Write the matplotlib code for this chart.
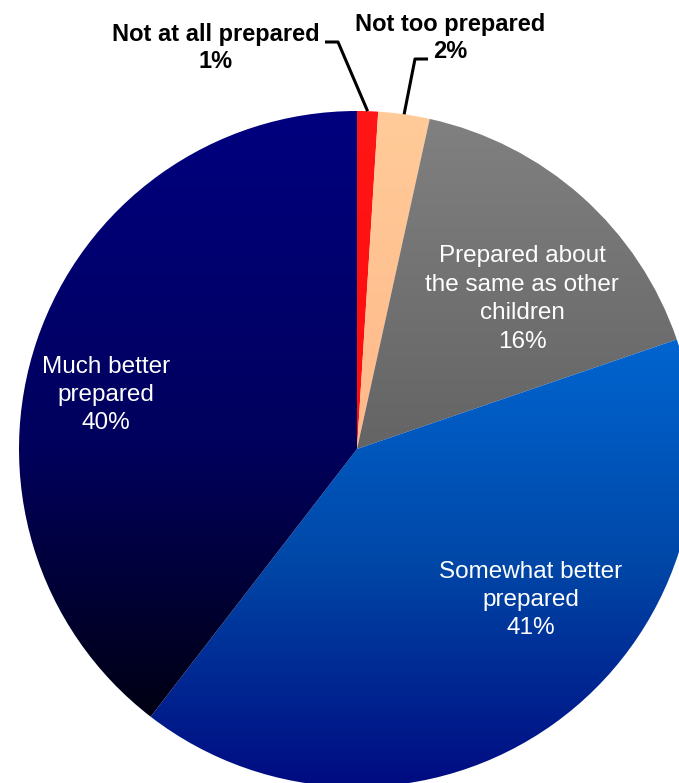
import matplotlib.pyplot as plt
import numpy as np

# slice data, clockwise from 12 o'clock
labels = ['Not at all prepared', 'Not too prepared',
          'Prepared about\nthe same as other\nchildren',
          'Somewhat better\nprepared', 'Much better\nprepared']
pct_labels = ['1%', '2%', '16%', '41%', '40%']
shares = [1.0, 2.45, 16.3, 40.7, 39.55]

W, H = 679, 783
cx, cy, r = 357, 449, 338          # pie centre / radius in pixels (y from top)

# vertical gradient stops per slice: (y from top, colour)
gradients = [
    [(0, '#ff1a1a'), (783, '#ff0000')],
    [(100, '#ffcc99'), (450, '#ffb88a')],
    [(100, '#828282'), (450, '#646464')],
    [(330, '#0066d2'), (560, '#0048a8'), (790, '#000a80')],
    [(100, '#000080'), (450, '#00005c'), (720, '#000012')],
]

plt.rcParams['font.family'] = ['Liberation Sans', 'DejaVu Sans']

fig = plt.figure(figsize=(W / 100, H / 100), dpi=100)
ax = fig.add_axes([0, 0, 1, 1])

wedges, _ = ax.pie(shares, startangle=90, counterclock=False,
                   center=(cx, H - cy), radius=r,
                   wedgeprops=dict(linewidth=0))
ax.set_aspect('equal')
ax.axis('off')


def hex_rgb(h):
    h = h.lstrip('#')
    return [int(h[i:i + 2], 16) / 255 for i in (0, 2, 4)]


ys = np.arange(H) + 0.5  # y from top, row 0 = top of figure
for w, stops in zip(wedges, gradients):
    sy = [s[0] for s in stops]
    cols = np.array([hex_rgb(s[1]) for s in stops])
    img = np.ones((H, 1, 4))
    for ch in range(3):
        img[:, 0, ch] = np.interp(ys, sy, cols[:, ch])
    w.set_facecolor('none')
    im = ax.imshow(img, extent=(0, W, 0, H), origin='upper', aspect='auto',
                   interpolation='bilinear', zorder=1)
    im.set_clip_path(w)
ax.set_xlim(0, W)
ax.set_ylim(0, H)

# inside labels (white)
inside_pos = {2: (522, 299), 3: (531, 600), 4: (106, 395)}
for i, (x, y) in inside_pos.items():
    ax.text(x, H - y, labels[i] + '\n' + pct_labels[i], color='white',
            fontsize=17.5, ha='center', va='center', linespacing=1.38, zorder=3)

# outside labels with leader lines
outside = {0: dict(text=(216, 48), elbow=(338, 42), start=(325, 42)),
           1: dict(text=(450, 38), elbow=(415, 59), start=(428, 59))}
for i, o in outside.items():
    ax.text(o['text'][0], H - o['text'][1], labels[i] + '\n' + pct_labels[i],
            color='black', fontsize=17, fontweight='bold', ha='center',
            va='center', linespacing=1.25, zorder=3)
    w = wedges[i]
    mid = np.deg2rad((w.theta1 + w.theta2) / 2)
    ax_x = cx + r * np.cos(mid)
    ax_y = H - cy + r * np.sin(mid)
    ax.plot([o['start'][0], o['elbow'][0], ax_x],
            [H - o['start'][1], H - o['elbow'][1], ax_y],
            color='black', lw=2.2, zorder=3, solid_capstyle='butt')

fig.savefig('out.png', dpi=100)
